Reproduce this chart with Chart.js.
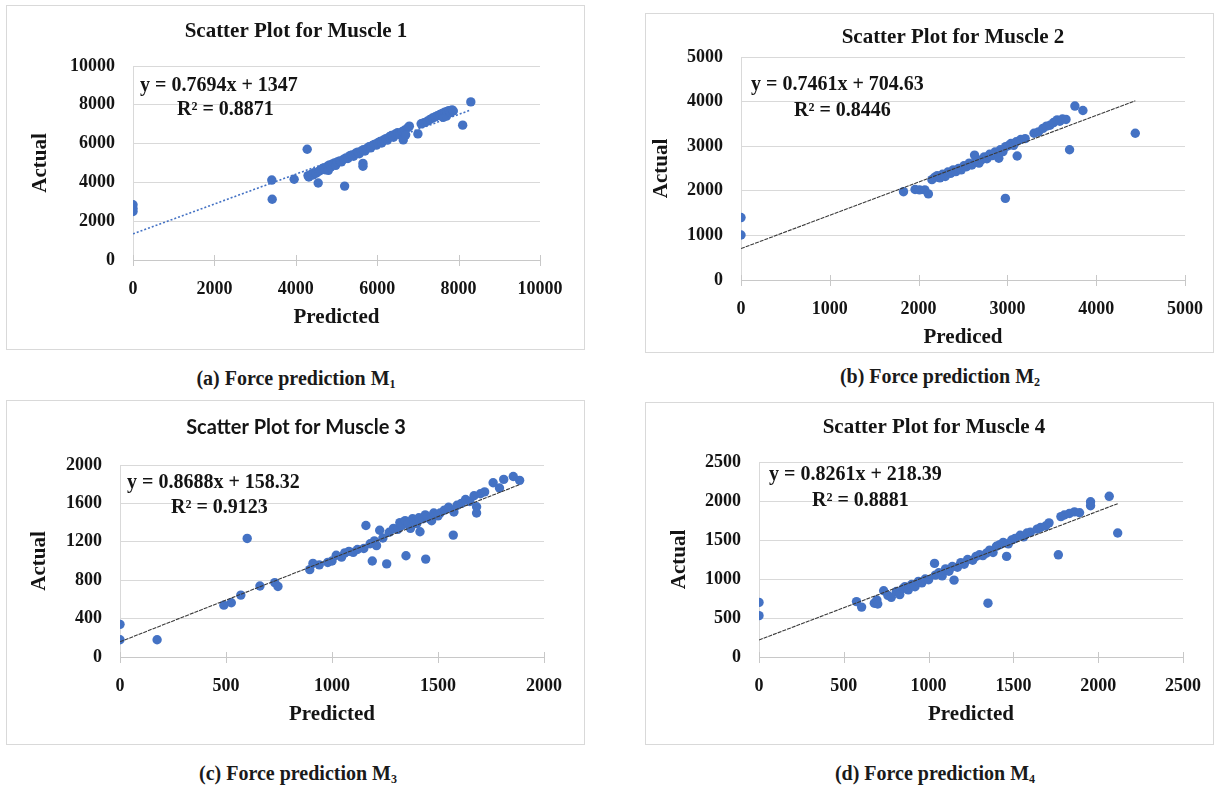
<!DOCTYPE html>
<html>
<head>
<meta charset="utf-8">
<title>Force prediction scatter plots</title>
<script src="https://cdn.jsdelivr.net/npm/chart.js@4.4.1/dist/chart.umd.min.js"></script>
<style>
  body { margin: 0; background: #fff; width: 1224px; height: 796px; position: relative; overflow: hidden;
         font-family: "Liberation Serif", "Times New Roman", serif; }
  .panel { position: absolute; box-shadow: inset 0 0 0 1px #d9d9d9; }
  .panel canvas { position: absolute; left: 0; top: 0; }
  .caption { position: absolute; width: 300px; text-align: center; font-weight: bold; font-size: 20px; color: #1a1a1a; }
  .caption sub { font-size: 12px; vertical-align: -3px; line-height: 0; }
</style>
</head>
<body>
<div class="panel" id="p1" style="left:6px;top:5px;width:579px;height:345px"><canvas id="c1" width="579" height="345"></canvas></div>
<div class="panel" id="p2" style="left:645px;top:13px;width:569px;height:340px"><canvas id="c2" width="569" height="340"></canvas></div>
<div class="panel" id="p3" style="left:6px;top:400px;width:579px;height:345px"><canvas id="c3" width="579" height="345"></canvas></div>
<div class="panel" id="p4" style="left:645px;top:402px;width:569px;height:343px"><canvas id="c4" width="569" height="343"></canvas></div>

<div class="caption" style="left:146px;top:367px">(a) Force prediction M<sub>1</sub></div>
<div class="caption" style="left:790px;top:365px">(b) Force prediction M<sub>2</sub></div>
<div class="caption" style="left:148px;top:762px">(c) Force prediction M<sub>3</sub></div>
<div class="caption" style="left:785px;top:762px">(d) Force prediction M<sub>4</sub></div>

<script>
// ---- Muscle 1 ----
const m1Predicted = [0, 0, 0, 3410, 3420, 3960, 4280, 4550, 5200, 5650, 5650,
  4300, 4320, 4380, 4420, 4450, 4500, 4560, 4600, 4650, 4700, 4720, 4780, 4800, 4830, 4860, 4900, 4950, 4980,
  5020, 5080, 5120, 5180, 5230, 5280, 5330, 5380, 5420, 5470, 5520, 5560, 5610, 5660, 5700, 5750, 5800, 5840,
  5880, 5930, 5980, 6020, 6070, 6110, 6160, 6210, 6250, 6300, 6350, 6400, 6450, 6500, 6560, 6620, 6680, 6640,
  6760, 6700, 6790, 7000, 7080, 7150, 7230, 7300, 7360, 7420, 7480, 7540, 7600, 7620, 7660, 7700, 7720, 7760,
  7800, 7840, 7870, 8100, 8300];
const m1Actual = [2850, 2650, 2500, 4120, 3130, 4160, 5710, 3970, 3810, 4980, 4830,
  4350, 4280, 4420, 4380, 4500, 4470, 4560, 4620, 4700, 4760, 4650, 4830, 4620, 4900, 4800, 4950, 5000, 4880,
  5050, 5110, 5060, 5200, 5260, 5230, 5380, 5420, 5350, 5500, 5560, 5480, 5620, 5680, 5620, 5760, 5840, 5780,
  5900, 5960, 5920, 6050, 6110, 6030, 6190, 6250, 6180, 6350, 6420, 6330, 6500, 6560, 6460, 6620, 6700, 6190,
  6830, 6450, 6900, 6500, 7020, 7080, 7150, 7250, 7320, 7380, 7440, 7500, 7560, 7350, 7620, 7420, 7660, 7700,
  7600, 7740, 7680, 6950, 8150];
const m1Ticks = [0, 2000, 4000, 6000, 8000, 10000];
const m1Fit = [0.7694, 1347];
const m1R2 = '0.8871';

// ---- Muscle 2 ----
const m2Predicted = [0, 0, 1830, 1960, 2010, 2070, 2110,
  2150, 2180, 2210, 2240, 2270, 2300, 2330, 2360, 2390, 2420, 2450, 2480, 2510, 2540, 2570, 2600, 2630, 2650,
  2680, 2710, 2740, 2770, 2800, 2830, 2860, 2890, 2903, 2920, 2950, 2980, 3010, 3040, 3070, 3100, 3110, 3150,
  3200, 2977, 3300, 3350, 3400, 3440, 3480, 3520, 3560, 3590, 3620, 3660, 3700, 3760, 3850, 4440];
const m2Actual = [1400, 1010, 1980, 2030, 2020, 2020, 1930,
  2250, 2300, 2340, 2290, 2370, 2320, 2420, 2390, 2470, 2430, 2500, 2470, 2560, 2540, 2620, 2580, 2800, 2660,
  2620, 2700, 2760, 2720, 2820, 2790, 2870, 2840, 2730, 2920, 2880, 2990, 3010, 3060, 3020, 3100, 2780, 3150,
  3170, 1830, 3290, 3320, 3400, 3450, 3470, 3530, 3590, 3560, 3610, 3600, 2920, 3900, 3800, 3290];
const m2Ticks = [0, 1000, 2000, 3000, 4000, 5000];
const m2Fit = [0.7461, 704.63];
const m2R2 = '0.8446';

// ---- Muscle 3 ----
const m3Predicted = [0, 0, 175, 490, 525, 570, 600, 660, 730, 745,
  895, 910, 940, 980, 1000, 1020, 1045, 1060, 1080, 1100, 1120, 1150, 1160, 1180, 1190, 1200, 1210, 1225, 1240,
  1258, 1270, 1290, 1310, 1320, 1330, 1345, 1349, 1360, 1370, 1380, 1385, 1400, 1410, 1415, 1430, 1440, 1442,
  1450, 1460, 1470, 1480, 1490, 1500, 1510, 1530, 1550, 1572, 1575, 1590, 1610, 1630, 1650, 1670, 1682, 1682,
  1700, 1720, 1760, 1790, 1810, 1855, 1885];
const m3Actual = [340, 180, 180, 540, 565, 645, 1235, 740, 775, 735,
  910, 975, 960, 985, 1000, 1060, 1040, 1085, 1100, 1090, 1120, 1130, 1370, 1180, 1000, 1210, 1160, 1320, 1240,
  970, 1300, 1340, 1330, 1400, 1370, 1420, 1055, 1390, 1340, 1440, 1410, 1390, 1450, 1305, 1440, 1480, 1020,
  1460, 1440, 1420, 1500, 1480, 1470, 1500, 1530, 1560, 1270, 1510, 1580, 1600, 1640, 1620, 1680, 1500, 1565,
  1700, 1720, 1815, 1760, 1850, 1880, 1840];
const m3Ticks = [0, 500, 1000, 1500, 2000];
const m3TicksY = [0, 400, 800, 1200, 1600, 2000];
const m3Fit = [0.8688, 158.32];
const m3R2 = '0.9123';

// ---- Muscle 4 ----
const m4Predicted = [0, 0, 575, 605, 680, 695, 700, 735, 760, 780, 810, 830, 850, 860, 880, 900, 920, 940, 960,
  980, 1000, 1035, 1040, 1060, 1080, 1100, 1120, 1140, 1150, 1170, 1190, 1210, 1230, 1260, 1280, 1300, 1320,
  1340, 1350, 1360, 1380, 1400, 1420, 1440, 1460, 1470, 1490, 1510, 1540, 1560, 1580, 1600, 1640, 1660, 1690,
  1710, 1765, 1780, 1800, 1830, 1860, 1890, 1955, 1955, 2065, 2115];
const m4Actual = [700, 530, 710, 640, 690, 730, 680, 850, 790, 765, 840, 800, 880, 900, 860, 930, 900, 970, 950,
  1000, 990, 1200, 1050, 1080, 1040, 1130, 1100, 1160, 985, 1150, 1210, 1190, 1250, 1240, 1290, 1310, 1300,
  1330, 690, 1370, 1340, 1420, 1440, 1470, 1290, 1450, 1500, 1520, 1560, 1540, 1590, 1600, 1640, 1660, 1680,
  1720, 1310, 1800, 1820, 1840, 1860, 1850, 1990, 1940, 2060, 1590];
const m4Ticks = [0, 500, 1000, 1500, 2000, 2500];
const m4Fit = [0.8261, 218.39];
const m4R2 = '0.8881';

const SERIF = '"Liberation Serif", "Times New Roman", serif';
const INK = '#141414';
const BLUE = '#4472c4';

// titles, equation box and crossing tick marks on the horizontal axis
const panelText = {
  id: 'panelText',
  beforeDatasetsDraw(chart, args, o) {
    const ctx = chart.ctx, xs = chart.scales.x, b = chart.chartArea.bottom;
    ctx.save();
    ctx.strokeStyle = '#c8c8c8';
    ctx.lineWidth = 1;
    xs.ticks.forEach(t => {
      const px = Math.round(xs.getPixelForValue(t.value)) + 0.5;
      ctx.beginPath();
      ctx.moveTo(px, b - 5);
      ctx.lineTo(px, b + 6);
      ctx.stroke();
    });
    ctx.restore();
  },
  afterDraw(chart, args, o) {
    const ctx = chart.ctx;
    ctx.save();
    ctx.fillStyle = INK;
    ctx.textBaseline = 'middle';
    ctx.textAlign = 'center';
    ctx.font = o.titleFont;
    ctx.fillText(o.title, o.titleAt[0], o.titleAt[1]);
    ctx.textAlign = 'left';
    ctx.font = 'bold 20px ' + SERIF;
    ctx.fillText(o.equation, o.eqAt[0], o.eqAt[1]);
    ctx.fillText(o.r2, o.r2At[0], o.r2At[1]);
    ctx.restore();
  }
};

function makePanel(p) {
  const points = p.xs.map((x, i) => ({ x: x, y: p.ys[i] }));
  const xEnd = Math.max(...p.xs);
  const fitLine = [{ x: 0, y: p.fit[1] }, { x: xEnd, y: p.fit[0] * xEnd + p.fit[1] }];
  const W = p.w, H = p.h, a = p.area;
  const tickFont = { family: SERIF, size: 18, weight: 'bold' };
  const axisFont = { family: SERIF, size: 21, weight: 'bold' };

  new Chart(document.getElementById(p.id), {
    type: 'scatter',
    data: {
      datasets: [
        {
          label: 'Trend',
          data: fitLine,
          showLine: true,
          pointRadius: 0,
          borderColor: p.lineColor,
          borderWidth: p.lineWidth,
          borderDash: p.lineDash,
          order: p.lineOnTop ? 0 : 2
        },
        {
          label: 'Actual',
          data: points,
          pointRadius: 4.7,
          pointHoverRadius: 4.7,
          backgroundColor: BLUE,
          borderWidth: 0,
          order: 1
        }
      ]
    },
    options: {
      responsive: false,
      animation: false,
      events: [],
      layout: { padding: { top: a.top, right: W - a.right, left: 0, bottom: 0 } },
      plugins: {
        legend: { display: false },
        tooltip: { enabled: false },
        panelText: {
          title: p.title, titleAt: p.titleAt, titleFont: p.titleFont,
          equation: 'y = ' + p.fit[0] + 'x + ' + p.fit[1], eqAt: p.eqAt,
          r2: 'R² = ' + p.r2, r2At: p.r2At
        }
      },
      scales: {
        x: {
          type: 'linear',
          min: p.xTicks[0],
          max: p.xTicks[p.xTicks.length - 1],
          afterBuildTicks: s => { s.ticks = p.xTicks.map(v => ({ value: v })); },
          afterFit: s => { s.height = H - a.bottom; },
          ticks: { color: INK, font: tickFont, padding: 11, maxRotation: 0, autoSkip: false, callback: v => String(v) },
          grid: { display: false },
          border: { display: true, color: '#c8c8c8', width: 1 },
          title: { display: true, text: p.xTitle, color: INK, font: axisFont, padding: { top: 0, bottom: p.xTitlePad } }
        },
        y: {
          type: 'linear',
          min: p.yTicks[0],
          max: p.yTicks[p.yTicks.length - 1],
          afterBuildTicks: s => { s.ticks = p.yTicks.map(v => ({ value: v })); },
          afterFit: s => { s.width = a.left; },
          ticks: { color: INK, font: tickFont, padding: 18, callback: v => String(v) },
          grid: { color: '#d9d9d9', lineWidth: 1, drawTicks: false },
          border: { display: true, color: '#d9d9d9', width: 1 },
          title: { display: true, text: 'Actual', color: INK, font: axisFont, padding: { top: p.yTitlePad, bottom: 0 } }
        }
      }
    },
    plugins: [panelText]
  });
}

const serifTitle = 'bold 21px ' + SERIF;

makePanel({
  id: 'c1', w: 579, h: 345, area: { left: 127, top: 61, right: 534, bottom: 255 },
  xs: m1Predicted, ys: m1Actual, xTicks: m1Ticks, yTicks: m1Ticks, fit: m1Fit, r2: m1R2,
  title: 'Scatter Plot for Muscle 1', titleAt: [290, 27], titleFont: serifTitle,
  eqAt: [134, 81], r2At: [171, 105],
  xTitle: 'Predicted', xTitlePad: 20, yTitlePad: 22,
  lineColor: BLUE, lineWidth: 1.6, lineDash: [2, 2], lineOnTop: false
});

makePanel({
  id: 'c2', w: 569, h: 340, area: { left: 96, top: 44, right: 545, bottom: 267 },
  xs: m2Predicted, ys: m2Actual, xTicks: m2Ticks, yTicks: m2Ticks, fit: m2Fit, r2: m2R2,
  title: 'Scatter Plot for Muscle 2', titleAt: [308, 25], titleFont: serifTitle,
  eqAt: [106, 72], r2At: [149, 98],
  xTitle: 'Prediced', xTitlePad: 3, yTitlePad: 4,
  lineColor: '#3a3a3a', lineWidth: 1.1, lineDash: [4, 1], lineOnTop: true
});

makePanel({
  id: 'c3', w: 579, h: 345, area: { left: 114, top: 65, right: 538, bottom: 257 },
  xs: m3Predicted, ys: m3Actual, xTicks: m3Ticks, yTicks: m3TicksY, fit: m3Fit, r2: m3R2,
  title: 'Scatter Plot for Muscle 3', titleAt: [290, 28], titleFont: 'bold 20px Lato, "Open Sans", sans-serif',
  eqAt: [121, 83], r2At: [165, 108],
  xTitle: 'Predicted', xTitlePad: 18, yTitlePad: 21,
  lineColor: '#3a3a3a', lineWidth: 1.1, lineDash: [4, 1], lineOnTop: true
});

makePanel({
  id: 'c4', w: 569, h: 343, area: { left: 114, top: 60, right: 538, bottom: 255 },
  xs: m4Predicted, ys: m4Actual, xTicks: m4Ticks, yTicks: m4Ticks, fit: m4Fit, r2: m4R2,
  title: 'Scatter Plot for Muscle 4', titleAt: [289, 26], titleFont: serifTitle,
  eqAt: [124, 73], r2At: [167, 99],
  xTitle: 'Predicted', xTitlePad: 18, yTitlePad: 22,
  lineColor: '#3a3a3a', lineWidth: 1.1, lineDash: [4, 1], lineOnTop: true
});
</script>
</body>
</html>
